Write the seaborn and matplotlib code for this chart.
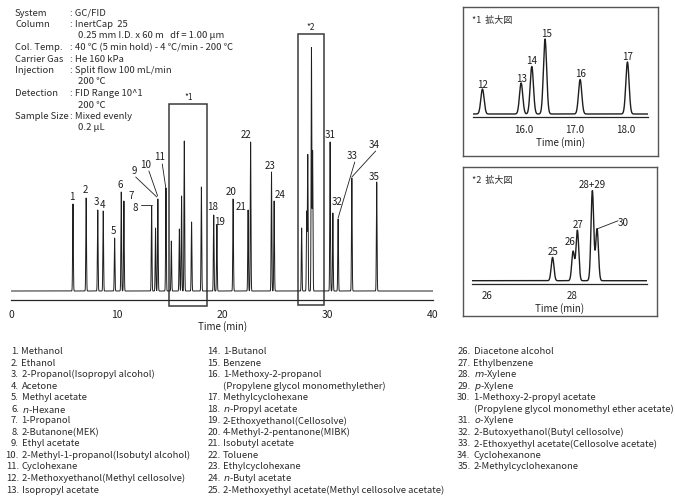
import numpy as np
import pandas as pd
import matplotlib
matplotlib.use('Agg')
import matplotlib.pyplot as plt
from matplotlib.patches import Rectangle
from matplotlib.ticker import MultipleLocator
import seaborn as sns

sns.set_style('white')
plt.rcParams['font.family'] = ['Noto Sans CJK JP', 'DejaVu Sans']

W, H = 675, 502

# peak table (28+29 co-elute)
peak_ids = ['1', '2', '3', '4', '5', '6', '7', '8', '9', '10', '11', '12', '13', '14',
            '15', '16', '17', '18', '19', '20', '21', '22', '23', '24', '25', '26', '27',
            '28+29', '30', '31', '32', '33', '34', '35']
retention = [5.85, 7.10, 8.20, 8.72, 9.80, 10.43, 10.68, 13.31, 13.68, 13.90, 14.67,
             15.18, 15.94, 16.15, 16.41, 17.10, 18.03, 19.20, 19.50, 21.04, 22.46, 22.70,
             24.68, 24.93, 27.54, 28.02, 28.12, 28.47, 28.58, 30.24, 30.50, 31.00, 32.30,
             34.66]
response = [87, 93, 81, 80, 53, 99, 90, 85, 63, 92, 103, 50, 62, 95, 150, 69, 104, 76,
            66, 92, 81, 149, 119, 90, 63, 79, 136, 243, 140, 149, 78, 72, 113, 109]
peak_width = 0.032

conditions_label = ['System', 'Column', '', 'Col. Temp.', 'Carrier Gas', 'Injection', '',
                    'Detection', '', 'Sample Size', '']
conditions_value = [': GC/FID', ': InertCap  25', '0.25 mm I.D. x 60 m   df = 1.00 μm',
                    ': 40 ℃ (5 min hold) - 4 ℃/min - 200 ℃', ': He 160 kPa',
                    ': Split flow 100 mL/min', '200 ℃', ': FID Range 10^1', '200 ℃',
                    ': Mixed evenly', '0.2 μL']

compounds = ['Methanol', 'Ethanol', '2-Propanol(Isopropyl alcohol)', 'Acetone',
             'Methyl acetate', r'$\it{n}$-Hexane', '1-Propanol', '2-Butanone(MEK)',
             'Ethyl acetate', '2-Methyl-1-propanol(Isobutyl alcohol)', 'Cyclohexane',
             '2-Methoxyethanol(Methyl cellosolve)', 'Isopropyl acetate',
             '1-Butanol', 'Benzene',
             '1-Methoxy-2-propanol\n(Propylene glycol monomethylether)',
             'Methylcyclohexane', r'$\it{n}$-Propyl acetate', '2-Ethoxyethanol(Cellosolve)',
             '4-Methyl-2-pentanone(MIBK)', 'Isobutyl acetate', 'Toluene',
             'Ethylcyclohexane', r'$\it{n}$-Butyl acetate',
             '2-Methoxyethyl acetate(Methyl cellosolve acetate)',
             'Diacetone alcohol', 'Ethylbenzene', r'$\it{m}$-Xylene', r'$\it{p}$-Xylene',
             '1-Methoxy-2-propyl acetate\n(Propylene glycol monomethyl ether acetate)',
             r'$\it{o}$-Xylene', '2-Butoxyethanol(Butyl cellosolve)',
             '2-Ethoxyethyl acetate(Cellosolve acetate)', 'Cyclohexanone',
             '2-Methylcyclohexanone']

# label placement (data coords) for the main trace, leaders start -> end
main_labels = {'1': (5.72, 95), '2': (7.02, 102), '3': (8.06, 90), '4': (8.66, 87),
               '5': (9.67, 61), '6': (10.37, 107), '7': (11.41, 96), '8': (11.79, 84),
               '9': (11.66, 121), '10': (12.77, 127), '11': (14.03, 135),
               '18': (19.09, 85), '19': (19.72, 70), '20': (20.83, 100), '21': (21.83, 85),
               '22': (22.25, 157), '23': (24.52, 126), '24': (25.47, 97),
               '31': (30.27, 157), '32': (30.90, 90), '33': (32.36, 136),
               '34': (34.38, 147), '35': (34.41, 115)}
main_leaders = {'8': ((12.27, 86), (13.31, 86)), '9': ((11.80, 114), (13.80, 94)),
                '10': ((13.05, 120), (13.88, 95)), '11': ((14.32, 127), (14.67, 102)),
                '33': ((32.58, 129), (31.00, 73)), '34': ((34.56, 140), (32.30, 114))}
inset1_labels = {'12': (15.18, 61), '13': (15.95, 73), '14': (16.15, 107),
                 '15': (16.43, 162), '16': (17.11, 82), '17': (18.04, 115)}
inset2_labels = {'25': (27.54, 81), '26': (27.95, 108), '27': (28.14, 153),
                 '28+29': (28.47, 261), '30': (29.19, 160)}


def signal(t):
    rt = np.array(retention)[:, None]
    h = np.array(response)[:, None]
    return (h * np.exp(-0.5 * ((t[None, :] - rt) / peak_width) ** 2)).sum(axis=0)


def px_rect(x0, x1, ytop, ybot):
    return [x0 / W, 1 - ybot / H, (x1 - x0) / W, (ybot - ytop) / H]


def ftext(x, y, s, **kw):
    kw.setdefault('va', 'center')
    kw.setdefault('fontsize', 6.8)
    kw.setdefault('color', '#2a2a2a')
    fig.text(x / W, 1 - y / H, s, **kw)


fig = plt.figure(figsize=(W / 100, H / 100), dpi=100)

# ---- main chromatogram
ax = fig.add_axes(px_rect(11.3, 433, 20, 300.7))
t = np.linspace(0, 40, 20001)
df = pd.DataFrame({'Time (min)': t, 'Response': signal(t)})
sns.lineplot(data=df, x='Time (min)', y='Response', ax=ax, color='#1e1e1e', lw=0.7)
ax.set_xlim(0, 40)
ax.set_ylim(-8.7, 272)
for s in ['left', 'right', 'top']:
    ax.spines[s].set_visible(False)
ax.spines['bottom'].set_linewidth(0.9)
ax.set_yticks([])
ax.set_ylabel('')
ax.set_xticks(range(0, 41, 10))
ax.xaxis.set_minor_locator(MultipleLocator(1))
ax.tick_params(axis='x', which='major', direction='out', length=5, width=0.8,
               labelsize=7.5, pad=1.5, colors='#222222')
ax.tick_params(axis='x', which='minor', direction='out', length=3, width=0.8)
ax.set_xlabel('Time (min)', fontsize=7, labelpad=1, color='#222222')

for pid, (lx, ly) in main_labels.items():
    ax.text(lx, ly, pid, ha='center', va='center', fontsize=7, color='#1e1e1e')
for pid, (p0, p1) in main_leaders.items():
    ax.plot([p0[0], p1[0]], [p0[1], p1[1]], color='#1e1e1e', lw=0.6)

ax.add_patch(Rectangle((15.0, -14.7), 3.58, 202, fill=False, ec='#3a3a3a', lw=1.1,
                       clip_on=False))
ax.add_patch(Rectangle((27.15, -14.0), 2.52, 271.3, fill=False, ec='#3a3a3a', lw=1.1,
                       clip_on=False))
ax.text(16.8, 195, '*1', ha='center', va='center', fontsize=6, color='#222222')
ax.text(28.4, 265, '*2', ha='center', va='center', fontsize=6, color='#222222')


def inset(frame, plot, xlim, ylim, title, labels, ticks, ticklabels, minor=None,
          leader=None):
    fr = fig.add_axes(frame)
    fr.set_xticks([])
    fr.set_yticks([])
    for s in fr.spines.values():
        s.set_color('#555555')
        s.set_linewidth(1.0)
    a = fig.add_axes(plot)
    tt = np.linspace(xlim[0], xlim[1], 3000)
    d = pd.DataFrame({'Time (min)': tt, 'Response': signal(tt)})
    sns.lineplot(data=d, x='Time (min)', y='Response', ax=a, color='#1e1e1e', lw=1.0)
    a.set_xlim(*xlim)
    a.set_ylim(*ylim)
    a.patch.set_alpha(0)
    for s in ['left', 'right', 'top']:
        a.spines[s].set_visible(False)
    a.spines['bottom'].set_linewidth(0.9)
    a.set_yticks([])
    a.set_ylabel('')
    a.set_xticks(ticks)
    a.set_xticklabels(ticklabels)
    if minor:
        a.xaxis.set_minor_locator(MultipleLocator(minor))
    a.tick_params(axis='x', which='both', direction='out', length=2.5, width=0.8,
                  labelsize=7, pad=2, colors='#222222')
    a.set_xlabel('Time (min)', fontsize=7, labelpad=1.5, color='#222222')
    for pid, (lx, ly) in labels.items():
        a.text(lx, ly, pid, ha='center', va='center', fontsize=7, color='#1e1e1e')
    if leader:
        a.plot(*zip(*leader), color='#1e1e1e', lw=0.6)
    fr_x = frame[0] * W + 9
    fr_y = (1 - frame[1] - frame[3]) * H + 12.4
    ftext(fr_x, fr_y, title, fontsize=6.5)
    return a


inset(px_rect(462.7, 658.3, 8.3, 156.7), px_rect(473.3, 648.3, 30, 118.3),
      (15.0, 18.44), (-6.6, 170), '*1  拡大図', inset1_labels,
      [16, 17, 18], ['16.0', '17.0', '18.0'], minor=0.2)
i30 = peak_ids.index('30')
inset(px_rect(462.7, 657.3, 168.3, 317.3), px_rect(471.7, 646.7, 176, 285),
      (25.65, 29.74), (-8.9, 285.7), '*2  拡大図', inset2_labels,
      [26, 27, 28, 29], ['26', '', '28', ''],
      leader=[(29.07, 162), (retention[i30], response[i30])])

# ---- analysis conditions
for i, (lab, val) in enumerate(zip(conditions_label, conditions_value)):
    y = 13 + 11.5 * i
    if lab:
        ftext(15, y, lab)
        ftext(70, y, val)
    else:
        ftext(77.5, y, val)

# ---- compound list
col_x = [(19, 21.5), (220.5, 223), (470.5, 473.5)]
col_start = [0, 13, 25]
for c in range(3):
    end = col_start[c + 1] if c < 2 else len(compounds)
    row = 0
    for k in range(col_start[c], end):
        y = 351.7 + 11.53 * row
        ftext(col_x[c][0], y, f'{k + 1}.', ha='right')
        for line in compounds[k].split('\n'):
            ftext(col_x[c][1], 351.7 + 11.53 * row, line, ha='left')
            row += 1

fig.savefig('out.png', dpi=100)
